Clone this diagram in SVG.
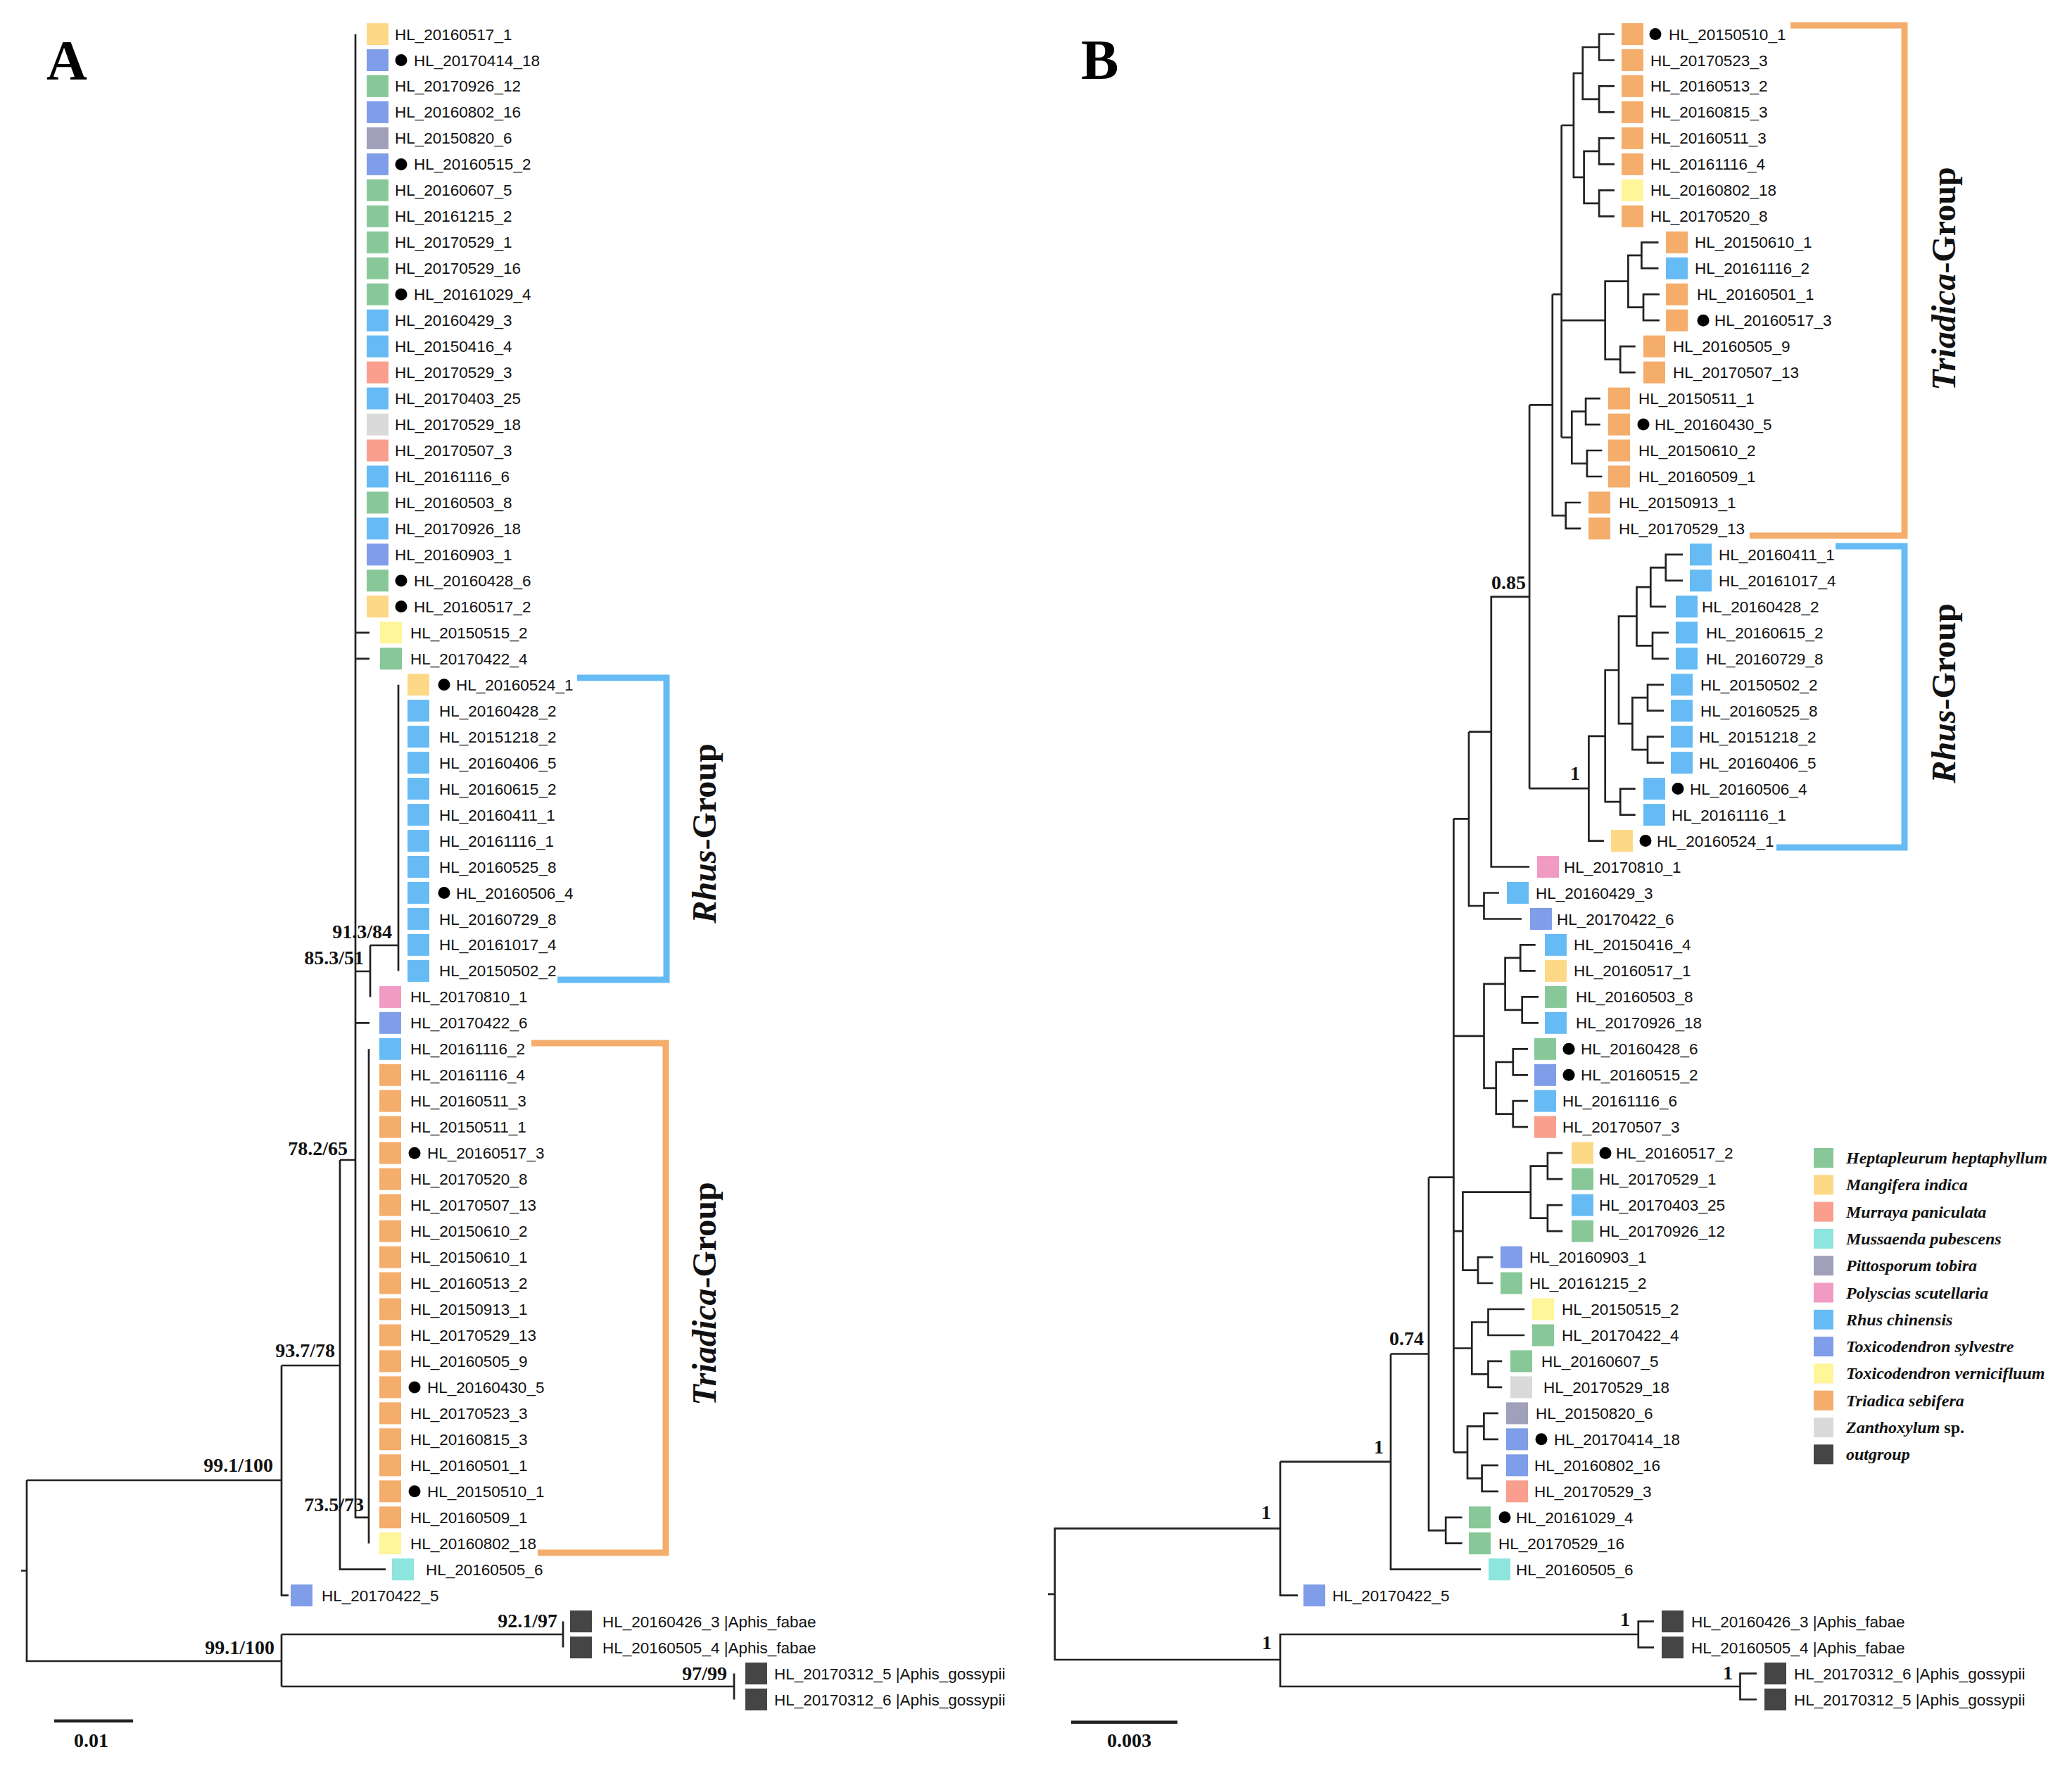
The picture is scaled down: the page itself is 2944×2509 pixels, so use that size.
<svg xmlns="http://www.w3.org/2000/svg" width="2944" height="2509" viewBox="0 0 2944 2509">
<style>
.ln{fill:none;stroke:#222;stroke-width:2.7}
.sb{fill:none;stroke:#222;stroke-width:4.5}
.t{font-family:"Liberation Sans",Arial,sans-serif;font-size:22.5px;fill:#111}
.bs{font-family:"Liberation Serif","Times New Roman",serif;font-size:28px;font-weight:bold;fill:#111;text-anchor:end}
.sc{font-family:"Liberation Serif","Times New Roman",serif;font-size:28px;font-weight:bold;fill:#111}
.lg{font-family:"Liberation Serif","Times New Roman",serif;font-size:24px;font-weight:bold;font-style:italic;fill:#111}
.grp{font-family:"Liberation Serif","Times New Roman",serif;font-size:48px;font-weight:bold;fill:#111;text-anchor:middle}
.pl{font-family:"Liberation Serif","Times New Roman",serif;font-size:80px;font-weight:bold;fill:#000}
.br{fill:none;stroke-width:9}
.bo{stroke:#F4AD6B}.bb{stroke:#66BBF4}
.hp{fill:#88C898}.mg{fill:#FDD886}.mu{fill:#FA9E8E}.ms{fill:#8DE5DE}.pt{fill:#A0A0BA}.po{fill:#F19BC4}
.rh{fill:#66BBF4}.sy{fill:#7F9DE8}.ve{fill:#FFF599}.tr{fill:#F4AD6B}.za{fill:#DADADA}.og{fill:#454545}
circle{fill:#000}
</style>
<rect width="2944" height="2509" fill="#fff"/>
<text class="pl" x="66" y="113">A</text>
<text class="pl" x="1536" y="112">B</text>

<g id="connectors-A">
<path class="ln" d="M505,48.5V2155.8H524M524,1490.3V2192.7M505,898.8H525M505,935.8H525M505,1380H526M526,1343V1416.4M526,1343H566M566,972.8V1379.4M505,1453.3H525M483,1648H505M483,1648V2229.7H548M400,1940H483M400,1940V2266.7H410M38,2103H400M38,2103V2360H400M30,2231.5H38M400,2322V2396M400,2322H800M800,2303.6V2340.6M400,2396H1043M1043,2377.6V2414.5"/>
<path class="sb" d="M77,2445H189"/>
<path class="br bb" d="M820,963H947V1392H792"/>
<path class="br bo" d="M755,1482H946V2206H764"/>
</g>
<g id="labels-A">
<text class="bs" x="557" y="1333">91.3/84</text>
<text class="bs" x="517" y="1370">85.3/51</text>
<text class="bs" x="494" y="1641">78.2/65</text>
<text class="bs" x="476" y="1928">93.7/78</text>
<text class="bs" x="388" y="2091">99.1/100</text>
<text class="bs" x="517" y="2147">73.5/73</text>
<text class="bs" x="792" y="2312">92.1/97</text>
<text class="bs" x="390" y="2350">99.1/100</text>
<text class="bs" x="1033" y="2387">97/99</text>
<text class="sc" x="105" y="2482">0.01</text>
<text class="grp" transform="translate(1017,1184) rotate(-90)"><tspan font-style="italic">Rhus</tspan>-Group</text>
<text class="grp" transform="translate(1017,1838) rotate(-90)"><tspan font-style="italic">Triadica</tspan>-Group</text>
</g>

<g id="tips-A">
<g id="A1" transform="translate(0,48.5)"><rect class="mg" x="521" y="-15.5" width="31" height="31"/><text class="t" x="561" y="8">HL_20160517_1</text></g>
<g id="A2" transform="translate(0,85.5)"><rect class="sy" x="521" y="-15.5" width="31" height="31"/><circle cx="570" cy="0" r="8.5"/><text class="t" x="588" y="8">HL_20170414_18</text></g>
<g id="A3" transform="translate(0,122.4)"><rect class="hp" x="521" y="-15.5" width="31" height="31"/><text class="t" x="561" y="8">HL_20170926_12</text></g>
<g id="A4" transform="translate(0,159.4)"><rect class="sy" x="521" y="-15.5" width="31" height="31"/><text class="t" x="561" y="8">HL_20160802_16</text></g>
<g id="A5" transform="translate(0,196.4)"><rect class="pt" x="521" y="-15.5" width="31" height="31"/><text class="t" x="561" y="8">HL_20150820_6</text></g>
<g id="A6" transform="translate(0,233.4)"><rect class="sy" x="521" y="-15.5" width="31" height="31"/><circle cx="570" cy="0" r="8.5"/><text class="t" x="588" y="8">HL_20160515_2</text></g>
<g id="A7" transform="translate(0,270.3)"><rect class="hp" x="521" y="-15.5" width="31" height="31"/><text class="t" x="561" y="8">HL_20160607_5</text></g>
<g id="A8" transform="translate(0,307.3)"><rect class="hp" x="521" y="-15.5" width="31" height="31"/><text class="t" x="561" y="8">HL_20161215_2</text></g>
<g id="A9" transform="translate(0,344.3)"><rect class="hp" x="521" y="-15.5" width="31" height="31"/><text class="t" x="561" y="8">HL_20170529_1</text></g>
<g id="A10" transform="translate(0,381.2)"><rect class="hp" x="521" y="-15.5" width="31" height="31"/><text class="t" x="561" y="8">HL_20170529_16</text></g>
<g id="A11" transform="translate(0,418.2)"><rect class="hp" x="521" y="-15.5" width="31" height="31"/><circle cx="570" cy="0" r="8.5"/><text class="t" x="588" y="8">HL_20161029_4</text></g>
<g id="A12" transform="translate(0,455.2)"><rect class="rh" x="521" y="-15.5" width="31" height="31"/><text class="t" x="561" y="8">HL_20160429_3</text></g>
<g id="A13" transform="translate(0,492.1)"><rect class="rh" x="521" y="-15.5" width="31" height="31"/><text class="t" x="561" y="8">HL_20150416_4</text></g>
<g id="A14" transform="translate(0,529.1)"><rect class="mu" x="521" y="-15.5" width="31" height="31"/><text class="t" x="561" y="8">HL_20170529_3</text></g>
<g id="A15" transform="translate(0,566.1)"><rect class="rh" x="521" y="-15.5" width="31" height="31"/><text class="t" x="561" y="8">HL_20170403_25</text></g>
<g id="A16" transform="translate(0,603.1)"><rect class="za" x="521" y="-15.5" width="31" height="31"/><text class="t" x="561" y="8">HL_20170529_18</text></g>
<g id="A17" transform="translate(0,640)"><rect class="mu" x="521" y="-15.5" width="31" height="31"/><text class="t" x="561" y="8">HL_20170507_3</text></g>
<g id="A18" transform="translate(0,677)"><rect class="rh" x="521" y="-15.5" width="31" height="31"/><text class="t" x="561" y="8">HL_20161116_6</text></g>
<g id="A19" transform="translate(0,714)"><rect class="hp" x="521" y="-15.5" width="31" height="31"/><text class="t" x="561" y="8">HL_20160503_8</text></g>
<g id="A20" transform="translate(0,750.9)"><rect class="rh" x="521" y="-15.5" width="31" height="31"/><text class="t" x="561" y="8">HL_20170926_18</text></g>
<g id="A21" transform="translate(0,787.9)"><rect class="sy" x="521" y="-15.5" width="31" height="31"/><text class="t" x="561" y="8">HL_20160903_1</text></g>
<g id="A22" transform="translate(0,824.9)"><rect class="hp" x="521" y="-15.5" width="31" height="31"/><circle cx="570" cy="0" r="8.5"/><text class="t" x="588" y="8">HL_20160428_6</text></g>
<g id="A23" transform="translate(0,861.8)"><rect class="mg" x="521" y="-15.5" width="31" height="31"/><circle cx="570" cy="0" r="8.5"/><text class="t" x="588" y="8">HL_20160517_2</text></g>
<g id="A24" transform="translate(0,898.8)"><rect class="ve" x="540" y="-15.5" width="31" height="31"/><text class="t" x="583" y="8">HL_20150515_2</text></g>
<g id="A25" transform="translate(0,935.8)"><rect class="hp" x="540" y="-15.5" width="31" height="31"/><text class="t" x="583" y="8">HL_20170422_4</text></g>
<g id="A26" transform="translate(0,972.8)"><rect class="mg" x="579" y="-15.5" width="31" height="31"/><circle cx="631" cy="0" r="8.5"/><text class="t" x="648" y="8">HL_20160524_1</text></g>
<g id="A27" transform="translate(0,1009.7)"><rect class="rh" x="579" y="-15.5" width="31" height="31"/><text class="t" x="624" y="8">HL_20160428_2</text></g>
<g id="A28" transform="translate(0,1046.7)"><rect class="rh" x="579" y="-15.5" width="31" height="31"/><text class="t" x="624" y="8">HL_20151218_2</text></g>
<g id="A29" transform="translate(0,1083.7)"><rect class="rh" x="579" y="-15.5" width="31" height="31"/><text class="t" x="624" y="8">HL_20160406_5</text></g>
<g id="A30" transform="translate(0,1120.6)"><rect class="rh" x="579" y="-15.5" width="31" height="31"/><text class="t" x="624" y="8">HL_20160615_2</text></g>
<g id="A31" transform="translate(0,1157.6)"><rect class="rh" x="579" y="-15.5" width="31" height="31"/><text class="t" x="624" y="8">HL_20160411_1</text></g>
<g id="A32" transform="translate(0,1194.6)"><rect class="rh" x="579" y="-15.5" width="31" height="31"/><text class="t" x="624" y="8">HL_20161116_1</text></g>
<g id="A33" transform="translate(0,1231.5)"><rect class="rh" x="579" y="-15.5" width="31" height="31"/><text class="t" x="624" y="8">HL_20160525_8</text></g>
<g id="A34" transform="translate(0,1268.5)"><rect class="rh" x="579" y="-15.5" width="31" height="31"/><circle cx="631" cy="0" r="8.5"/><text class="t" x="648" y="8">HL_20160506_4</text></g>
<g id="A35" transform="translate(0,1305.5)"><rect class="rh" x="579" y="-15.5" width="31" height="31"/><text class="t" x="624" y="8">HL_20160729_8</text></g>
<g id="A36" transform="translate(0,1342.4)"><rect class="rh" x="579" y="-15.5" width="31" height="31"/><text class="t" x="624" y="8">HL_20161017_4</text></g>
<g id="A37" transform="translate(0,1379.4)"><rect class="rh" x="579" y="-15.5" width="31" height="31"/><text class="t" x="624" y="8">HL_20150502_2</text></g>
<g id="A38" transform="translate(0,1416.4)"><rect class="po" x="539" y="-15.5" width="31" height="31"/><text class="t" x="583" y="8">HL_20170810_1</text></g>
<g id="A39" transform="translate(0,1453.3)"><rect class="sy" x="539" y="-15.5" width="31" height="31"/><text class="t" x="583" y="8">HL_20170422_6</text></g>
<g id="A40" transform="translate(0,1490.3)"><rect class="rh" x="539" y="-15.5" width="31" height="31"/><text class="t" x="583" y="8">HL_20161116_2</text></g>
<g id="A41" transform="translate(0,1527.3)"><rect class="tr" x="539" y="-15.5" width="31" height="31"/><text class="t" x="583" y="8">HL_20161116_4</text></g>
<g id="A42" transform="translate(0,1564.2)"><rect class="tr" x="539" y="-15.5" width="31" height="31"/><text class="t" x="583" y="8">HL_20160511_3</text></g>
<g id="A43" transform="translate(0,1601.2)"><rect class="tr" x="539" y="-15.5" width="31" height="31"/><text class="t" x="583" y="8">HL_20150511_1</text></g>
<g id="A44" transform="translate(0,1638.2)"><rect class="tr" x="539" y="-15.5" width="31" height="31"/><circle cx="589" cy="0" r="8.5"/><text class="t" x="607" y="8">HL_20160517_3</text></g>
<g id="A45" transform="translate(0,1675.2)"><rect class="tr" x="539" y="-15.5" width="31" height="31"/><text class="t" x="583" y="8">HL_20170520_8</text></g>
<g id="A46" transform="translate(0,1712.1)"><rect class="tr" x="539" y="-15.5" width="31" height="31"/><text class="t" x="583" y="8">HL_20170507_13</text></g>
<g id="A47" transform="translate(0,1749.1)"><rect class="tr" x="539" y="-15.5" width="31" height="31"/><text class="t" x="583" y="8">HL_20150610_2</text></g>
<g id="A48" transform="translate(0,1786.1)"><rect class="tr" x="539" y="-15.5" width="31" height="31"/><text class="t" x="583" y="8">HL_20150610_1</text></g>
<g id="A49" transform="translate(0,1823)"><rect class="tr" x="539" y="-15.5" width="31" height="31"/><text class="t" x="583" y="8">HL_20160513_2</text></g>
<g id="A50" transform="translate(0,1860)"><rect class="tr" x="539" y="-15.5" width="31" height="31"/><text class="t" x="583" y="8">HL_20150913_1</text></g>
<g id="A51" transform="translate(0,1897)"><rect class="tr" x="539" y="-15.5" width="31" height="31"/><text class="t" x="583" y="8">HL_20170529_13</text></g>
<g id="A52" transform="translate(0,1933.9)"><rect class="tr" x="539" y="-15.5" width="31" height="31"/><text class="t" x="583" y="8">HL_20160505_9</text></g>
<g id="A53" transform="translate(0,1970.9)"><rect class="tr" x="539" y="-15.5" width="31" height="31"/><circle cx="589" cy="0" r="8.5"/><text class="t" x="607" y="8">HL_20160430_5</text></g>
<g id="A54" transform="translate(0,2007.9)"><rect class="tr" x="539" y="-15.5" width="31" height="31"/><text class="t" x="583" y="8">HL_20170523_3</text></g>
<g id="A55" transform="translate(0,2044.8)"><rect class="tr" x="539" y="-15.5" width="31" height="31"/><text class="t" x="583" y="8">HL_20160815_3</text></g>
<g id="A56" transform="translate(0,2081.8)"><rect class="tr" x="539" y="-15.5" width="31" height="31"/><text class="t" x="583" y="8">HL_20160501_1</text></g>
<g id="A57" transform="translate(0,2118.8)"><rect class="tr" x="539" y="-15.5" width="31" height="31"/><circle cx="589" cy="0" r="8.5"/><text class="t" x="607" y="8">HL_20150510_1</text></g>
<g id="A58" transform="translate(0,2155.8)"><rect class="tr" x="539" y="-15.5" width="31" height="31"/><text class="t" x="583" y="8">HL_20160509_1</text></g>
<g id="A59" transform="translate(0,2192.7)"><rect class="ve" x="539" y="-15.5" width="31" height="31"/><text class="t" x="583" y="8">HL_20160802_18</text></g>
<g id="A60" transform="translate(0,2229.7)"><rect class="ms" x="557" y="-15.5" width="31" height="31"/><text class="t" x="605" y="8">HL_20160505_6</text></g>
<g id="A61" transform="translate(0,2266.7)"><rect class="sy" x="413" y="-15.5" width="31" height="31"/><text class="t" x="457" y="8">HL_20170422_5</text></g>
<g id="A62" transform="translate(0,2303.6)"><rect class="og" x="810" y="-15.5" width="31" height="31"/><text class="t" x="856" y="8">HL_20160426_3 |Aphis_fabae</text></g>
<g id="A63" transform="translate(0,2340.6)"><rect class="og" x="810" y="-15.5" width="31" height="31"/><text class="t" x="856" y="8">HL_20160505_4 |Aphis_fabae</text></g>
<g id="A64" transform="translate(0,2377.6)"><rect class="og" x="1059" y="-15.5" width="31" height="31"/><text class="t" x="1100" y="8">HL_20170312_5 |Aphis_gossypii</text></g>
<g id="A65" transform="translate(0,2414.5)"><rect class="og" x="1059" y="-15.5" width="31" height="31"/><text class="t" x="1100" y="8">HL_20170312_6 |Aphis_gossypii</text></g>
</g>

<g id="connectors-B">
<path class="ln" d="M2294,48.5H2272.1V85.5H2294M2294,122.4H2272.1V159.4H2294M2272.1,67H2248.8V140.9H2272.1M2294,196.4H2272.1V233.4H2294M2294,270.3H2272.1V307.3H2294M2272.1,214.9H2250.6V288.8H2272.1M2248.8,104H2235.9V251.9H2250.6M2235.9,178H2218.7
M2356.5,344.3H2332.4V381.2H2356.5M2358,418.2H2335V455.2H2358M2332.4,362.8H2313.4V436.7H2335M2323.7,492.1H2302.2V529.1H2323.7M2313.4,399.7H2280.7V510.6H2302.2M2280.7,455.2H2218.7
M2273.8,566.1H2253.1V603.1H2273.8M2276.4,640H2254.9V677H2276.4M2253.1,584.6H2233.3V658.5H2254.9M2233.3,621.5H2218.7M2218.7,178V621.5M2218.7,418.2H2205.8M2246.3,714H2224.7V750.9H2246.3M2224.7,732.5H2205.8V418.2M2205.8,575.4H2173.1
M2391,787.9H2366.8V824.9H2391M2366.8,806.4H2345.3V861.8H2367M2371,898.8H2348V935.8H2371M2345.3,834.1H2325.5V917.3H2348M2364,972.8H2341V1009.7H2364M2364,1046.7H2341V1083.7H2364M2341,991.2H2319.4V1065.2H2341M2325.5,875.7H2300V1028.2H2319.4M2323.7,1120.6H2302.2V1157.6H2323.7M2300,952H2280.7V1139.1H2302.2M2280.7,1045.8H2257.4V1194.6H2279M2257.4,1120.2H2173.1M2173.1,575.4V1120.2
M2173.1,847.8H2118.8V1231.5H2173.1M2118.8,1039.7H2087M2130,1268.5H2108.5V1305.5H2162M2108.5,1287H2087V1039.7M2087,1163.3H2065.4
M2181.7,1342.4H2160.2V1379.4H2181.7M2186,1416.4H2162.7V1453.3H2186M2160.2,1360.9H2138.6V1434.9H2162.7M2171,1490.3H2149.8V1527.3H2171M2171,1564.2H2149.8V1601.2H2171M2149.8,1508.8H2125.7V1582.7H2149.8M2138.6,1397.9H2108.5V1545.8H2125.7M2108.5,1471.9H2065.4
M2220.4,1638.2H2198.9V1675.2H2220.4M2220.4,1712.1H2198.9V1749.1H2220.4M2198.9,1656.7H2174.8V1730.6H2198.9M2121.4,1786.1H2100V1823H2121.4M2174.8,1693.7H2078.4V1804.6H2100M2078.4,1749.2H2065.4
M2166.2,1860H2114.5V1897H2166.2M2134.3,1933.9H2114.5V1970.9H2134.3M2114.5,1878.5H2091.3V1952.4H2114.5M2091.3,1915.5H2065.4
M2129,2007.9H2108.4V2044.8H2129M2129,2081.8H2105.6V2118.8H2129M2108.4,2026.4H2085V2100.3H2105.6M2085,2063.3H2065.4M2065.4,1163.3V2063.3M2065.4,1672.6H2030
M2077.6,2155.8H2054.2V2192.7H2077.6M2054.2,2174.3H2030V1672.6M2030,1923.5H1976M1976,1923.5V2229.7H2104M1976,2076.6H1819M1819,2076.6V2266.7H1844M1819,2171.6H1498.7V2358H1819M1489,2264.8H1498.7M2327.8,2322H1819V2396H2472.5M2350,2303.6H2327.8V2340.6H2350M2496,2377.6H2472.5V2414.5H2496"/>
<path class="sb" d="M1522,2446.7H1673"/>
<path class="br bo" d="M2544,36H2706V761H2486"/>
<path class="br bb" d="M2608,776H2706V1204H2524"/>
</g>
<g id="labels-B">
<text class="bs" x="2168" y="837">0.85</text>
<text class="bs" x="2245" y="1108">1</text>
<text class="bs" x="2023" y="1911">0.74</text>
<text class="bs" x="1966" y="2065">1</text>
<text class="bs" x="1806" y="2158">1</text>
<text class="bs" x="1807" y="2343">1</text>
<text class="bs" x="2316" y="2310">1</text>
<text class="bs" x="2462" y="2386">1</text>
<text class="sc" x="1573" y="2482">0.003</text>
<text class="grp" transform="translate(2778,396) rotate(-90)"><tspan font-style="italic">Triadica</tspan>-Group</text>
<text class="grp" transform="translate(2778,985) rotate(-90)"><tspan font-style="italic">Rhus</tspan>-Group</text>
</g>

<g id="tips-B">
<g id="B1" transform="translate(0,48.5)"><rect class="tr" x="2304" y="-15.5" width="31" height="31"/><circle cx="2352" cy="0" r="8.5"/><text class="t" x="2371" y="8">HL_20150510_1</text></g>
<g id="B2" transform="translate(0,85.5)"><rect class="tr" x="2304" y="-15.5" width="31" height="31"/><text class="t" x="2345" y="8">HL_20170523_3</text></g>
<g id="B3" transform="translate(0,122.4)"><rect class="tr" x="2304" y="-15.5" width="31" height="31"/><text class="t" x="2345" y="8">HL_20160513_2</text></g>
<g id="B4" transform="translate(0,159.4)"><rect class="tr" x="2304" y="-15.5" width="31" height="31"/><text class="t" x="2345" y="8">HL_20160815_3</text></g>
<g id="B5" transform="translate(0,196.4)"><rect class="tr" x="2304" y="-15.5" width="31" height="31"/><text class="t" x="2345" y="8">HL_20160511_3</text></g>
<g id="B6" transform="translate(0,233.4)"><rect class="tr" x="2304" y="-15.5" width="31" height="31"/><text class="t" x="2345" y="8">HL_20161116_4</text></g>
<g id="B7" transform="translate(0,270.3)"><rect class="ve" x="2304" y="-15.5" width="31" height="31"/><text class="t" x="2345" y="8">HL_20160802_18</text></g>
<g id="B8" transform="translate(0,307.3)"><rect class="tr" x="2304" y="-15.5" width="31" height="31"/><text class="t" x="2345" y="8">HL_20170520_8</text></g>
<g id="B9" transform="translate(0,344.3)"><rect class="tr" x="2367" y="-15.5" width="31" height="31"/><text class="t" x="2408" y="8">HL_20150610_1</text></g>
<g id="B10" transform="translate(0,381.2)"><rect class="rh" x="2367" y="-15.5" width="31" height="31"/><text class="t" x="2408" y="8">HL_20161116_2</text></g>
<g id="B11" transform="translate(0,418.2)"><rect class="tr" x="2367" y="-15.5" width="31" height="31"/><text class="t" x="2411" y="8">HL_20160501_1</text></g>
<g id="B12" transform="translate(0,455.2)"><rect class="tr" x="2367" y="-15.5" width="31" height="31"/><circle cx="2420" cy="0" r="8.5"/><text class="t" x="2436" y="8">HL_20160517_3</text></g>
<g id="B13" transform="translate(0,492.1)"><rect class="tr" x="2335" y="-15.5" width="31" height="31"/><text class="t" x="2377" y="8">HL_20160505_9</text></g>
<g id="B14" transform="translate(0,529.1)"><rect class="tr" x="2335" y="-15.5" width="31" height="31"/><text class="t" x="2377" y="8">HL_20170507_13</text></g>
<g id="B15" transform="translate(0,566.1)"><rect class="tr" x="2285" y="-15.5" width="31" height="31"/><text class="t" x="2328" y="8">HL_20150511_1</text></g>
<g id="B16" transform="translate(0,603.1)"><rect class="tr" x="2285" y="-15.5" width="31" height="31"/><circle cx="2335" cy="0" r="8.5"/><text class="t" x="2351" y="8">HL_20160430_5</text></g>
<g id="B17" transform="translate(0,640)"><rect class="tr" x="2285" y="-15.5" width="31" height="31"/><text class="t" x="2328" y="8">HL_20150610_2</text></g>
<g id="B18" transform="translate(0,677)"><rect class="tr" x="2285" y="-15.5" width="31" height="31"/><text class="t" x="2328" y="8">HL_20160509_1</text></g>
<g id="B19" transform="translate(0,714)"><rect class="tr" x="2257" y="-15.5" width="31" height="31"/><text class="t" x="2300" y="8">HL_20150913_1</text></g>
<g id="B20" transform="translate(0,750.9)"><rect class="tr" x="2257" y="-15.5" width="31" height="31"/><text class="t" x="2300" y="8">HL_20170529_13</text></g>
<g id="B21" transform="translate(0,787.9)"><rect class="rh" x="2401" y="-15.5" width="31" height="31"/><text class="t" x="2442" y="8">HL_20160411_1</text></g>
<g id="B22" transform="translate(0,824.9)"><rect class="rh" x="2401" y="-15.5" width="31" height="31"/><text class="t" x="2442" y="8">HL_20161017_4</text></g>
<g id="B23" transform="translate(0,861.8)"><rect class="rh" x="2381" y="-15.5" width="31" height="31"/><text class="t" x="2418" y="8">HL_20160428_2</text></g>
<g id="B24" transform="translate(0,898.8)"><rect class="rh" x="2381" y="-15.5" width="31" height="31"/><text class="t" x="2424" y="8">HL_20160615_2</text></g>
<g id="B25" transform="translate(0,935.8)"><rect class="rh" x="2381" y="-15.5" width="31" height="31"/><text class="t" x="2424" y="8">HL_20160729_8</text></g>
<g id="B26" transform="translate(0,972.8)"><rect class="rh" x="2374" y="-15.5" width="31" height="31"/><text class="t" x="2416" y="8">HL_20150502_2</text></g>
<g id="B27" transform="translate(0,1009.7)"><rect class="rh" x="2374" y="-15.5" width="31" height="31"/><text class="t" x="2416" y="8">HL_20160525_8</text></g>
<g id="B28" transform="translate(0,1046.7)"><rect class="rh" x="2374" y="-15.5" width="31" height="31"/><text class="t" x="2414" y="8">HL_20151218_2</text></g>
<g id="B29" transform="translate(0,1083.7)"><rect class="rh" x="2374" y="-15.5" width="31" height="31"/><text class="t" x="2414" y="8">HL_20160406_5</text></g>
<g id="B30" transform="translate(0,1120.6)"><rect class="rh" x="2335" y="-15.5" width="31" height="31"/><circle cx="2384" cy="0" r="8.5"/><text class="t" x="2401" y="8">HL_20160506_4</text></g>
<g id="B31" transform="translate(0,1157.6)"><rect class="rh" x="2335" y="-15.5" width="31" height="31"/><text class="t" x="2375" y="8">HL_20161116_1</text></g>
<g id="B32" transform="translate(0,1194.6)"><rect class="mg" x="2289" y="-15.5" width="31" height="31"/><circle cx="2338" cy="0" r="8.5"/><text class="t" x="2354" y="8">HL_20160524_1</text></g>
<g id="B33" transform="translate(0,1231.5)"><rect class="po" x="2184" y="-15.5" width="31" height="31"/><text class="t" x="2222" y="8">HL_20170810_1</text></g>
<g id="B34" transform="translate(0,1268.5)"><rect class="rh" x="2141" y="-15.5" width="31" height="31"/><text class="t" x="2182" y="8">HL_20160429_3</text></g>
<g id="B35" transform="translate(0,1305.5)"><rect class="sy" x="2174" y="-15.5" width="31" height="31"/><text class="t" x="2212" y="8">HL_20170422_6</text></g>
<g id="B36" transform="translate(0,1342.4)"><rect class="rh" x="2195" y="-15.5" width="31" height="31"/><text class="t" x="2236" y="8">HL_20150416_4</text></g>
<g id="B37" transform="translate(0,1379.4)"><rect class="mg" x="2195" y="-15.5" width="31" height="31"/><text class="t" x="2236" y="8">HL_20160517_1</text></g>
<g id="B38" transform="translate(0,1416.4)"><rect class="hp" x="2195" y="-15.5" width="31" height="31"/><text class="t" x="2239" y="8">HL_20160503_8</text></g>
<g id="B39" transform="translate(0,1453.3)"><rect class="rh" x="2195" y="-15.5" width="31" height="31"/><text class="t" x="2239" y="8">HL_20170926_18</text></g>
<g id="B40" transform="translate(0,1490.3)"><rect class="hp" x="2180" y="-15.5" width="31" height="31"/><circle cx="2229" cy="0" r="8.5"/><text class="t" x="2246" y="8">HL_20160428_6</text></g>
<g id="B41" transform="translate(0,1527.3)"><rect class="sy" x="2180" y="-15.5" width="31" height="31"/><circle cx="2229" cy="0" r="8.5"/><text class="t" x="2246" y="8">HL_20160515_2</text></g>
<g id="B42" transform="translate(0,1564.2)"><rect class="rh" x="2180" y="-15.5" width="31" height="31"/><text class="t" x="2220" y="8">HL_20161116_6</text></g>
<g id="B43" transform="translate(0,1601.2)"><rect class="mu" x="2180" y="-15.5" width="31" height="31"/><text class="t" x="2220" y="8">HL_20170507_3</text></g>
<g id="B44" transform="translate(0,1638.2)"><rect class="mg" x="2233" y="-15.5" width="31" height="31"/><circle cx="2281" cy="0" r="8.5"/><text class="t" x="2296" y="8">HL_20160517_2</text></g>
<g id="B45" transform="translate(0,1675.2)"><rect class="hp" x="2233" y="-15.5" width="31" height="31"/><text class="t" x="2272" y="8">HL_20170529_1</text></g>
<g id="B46" transform="translate(0,1712.1)"><rect class="rh" x="2233" y="-15.5" width="31" height="31"/><text class="t" x="2272" y="8">HL_20170403_25</text></g>
<g id="B47" transform="translate(0,1749.1)"><rect class="hp" x="2233" y="-15.5" width="31" height="31"/><text class="t" x="2272" y="8">HL_20170926_12</text></g>
<g id="B48" transform="translate(0,1786.1)"><rect class="sy" x="2132" y="-15.5" width="31" height="31"/><text class="t" x="2173" y="8">HL_20160903_1</text></g>
<g id="B49" transform="translate(0,1823)"><rect class="hp" x="2132" y="-15.5" width="31" height="31"/><text class="t" x="2173" y="8">HL_20161215_2</text></g>
<g id="B50" transform="translate(0,1860)"><rect class="ve" x="2177" y="-15.5" width="31" height="31"/><text class="t" x="2219" y="8">HL_20150515_2</text></g>
<g id="B51" transform="translate(0,1897)"><rect class="hp" x="2177" y="-15.5" width="31" height="31"/><text class="t" x="2219" y="8">HL_20170422_4</text></g>
<g id="B52" transform="translate(0,1933.9)"><rect class="hp" x="2146" y="-15.5" width="31" height="31"/><text class="t" x="2190" y="8">HL_20160607_5</text></g>
<g id="B53" transform="translate(0,1970.9)"><rect class="za" x="2146" y="-15.5" width="31" height="31"/><text class="t" x="2193" y="8">HL_20170529_18</text></g>
<g id="B54" transform="translate(0,2007.9)"><rect class="pt" x="2140" y="-15.5" width="31" height="31"/><text class="t" x="2182" y="8">HL_20150820_6</text></g>
<g id="B55" transform="translate(0,2044.8)"><rect class="sy" x="2140" y="-15.5" width="31" height="31"/><circle cx="2190" cy="0" r="8.5"/><text class="t" x="2208" y="8">HL_20170414_18</text></g>
<g id="B56" transform="translate(0,2081.8)"><rect class="sy" x="2140" y="-15.5" width="31" height="31"/><text class="t" x="2180" y="8">HL_20160802_16</text></g>
<g id="B57" transform="translate(0,2118.8)"><rect class="mu" x="2140" y="-15.5" width="31" height="31"/><text class="t" x="2180" y="8">HL_20170529_3</text></g>
<g id="B58" transform="translate(0,2155.8)"><rect class="hp" x="2087" y="-15.5" width="31" height="31"/><circle cx="2138" cy="0" r="8.5"/><text class="t" x="2154" y="8">HL_20161029_4</text></g>
<g id="B59" transform="translate(0,2192.7)"><rect class="hp" x="2087" y="-15.5" width="31" height="31"/><text class="t" x="2129" y="8">HL_20170529_16</text></g>
<g id="B60" transform="translate(0,2229.7)"><rect class="ms" x="2115" y="-15.5" width="31" height="31"/><text class="t" x="2154" y="8">HL_20160505_6</text></g>
<g id="B61" transform="translate(0,2266.7)"><rect class="sy" x="1852" y="-15.5" width="31" height="31"/><text class="t" x="1893" y="8">HL_20170422_5</text></g>
<g id="B62" transform="translate(0,2303.6)"><rect class="og" x="2361" y="-15.5" width="31" height="31"/><text class="t" x="2403" y="8">HL_20160426_3 |Aphis_fabae</text></g>
<g id="B63" transform="translate(0,2340.6)"><rect class="og" x="2361" y="-15.5" width="31" height="31"/><text class="t" x="2403" y="8">HL_20160505_4 |Aphis_fabae</text></g>
<g id="B64" transform="translate(0,2377.6)"><rect class="og" x="2507" y="-15.5" width="31" height="31"/><text class="t" x="2549" y="8">HL_20170312_6 |Aphis_gossypii</text></g>
<g id="B65" transform="translate(0,2414.5)"><rect class="og" x="2507" y="-15.5" width="31" height="31"/><text class="t" x="2549" y="8">HL_20170312_5 |Aphis_gossypii</text></g>
</g>

<g id="legend">
<g id="L1" transform="translate(0,1645)"><rect class="hp" x="2577" y="-14" width="28" height="28"/><text class="lg" x="2623" y="8">Heptapleurum heptaphyllum</text></g>
<g id="L2" transform="translate(0,1683.3)"><rect class="mg" x="2577" y="-14" width="28" height="28"/><text class="lg" x="2623" y="8">Mangifera indica</text></g>
<g id="L3" transform="translate(0,1721.6)"><rect class="mu" x="2577" y="-14" width="28" height="28"/><text class="lg" x="2623" y="8">Murraya paniculata</text></g>
<g id="L4" transform="translate(0,1759.9)"><rect class="ms" x="2577" y="-14" width="28" height="28"/><text class="lg" x="2623" y="8">Mussaenda pubescens</text></g>
<g id="L5" transform="translate(0,1798.2)"><rect class="pt" x="2577" y="-14" width="28" height="28"/><text class="lg" x="2623" y="8">Pittosporum tobira</text></g>
<g id="L6" transform="translate(0,1836.5)"><rect class="po" x="2577" y="-14" width="28" height="28"/><text class="lg" x="2623" y="8">Polyscias scutellaria</text></g>
<g id="L7" transform="translate(0,1874.8)"><rect class="rh" x="2577" y="-14" width="28" height="28"/><text class="lg" x="2623" y="8">Rhus chinensis</text></g>
<g id="L8" transform="translate(0,1913.1)"><rect class="sy" x="2577" y="-14" width="28" height="28"/><text class="lg" x="2623" y="8">Toxicodendron sylvestre</text></g>
<g id="L9" transform="translate(0,1951.4)"><rect class="ve" x="2577" y="-14" width="28" height="28"/><text class="lg" x="2623" y="8">Toxicodendron vernicifluum</text></g>
<g id="L10" transform="translate(0,1989.7)"><rect class="tr" x="2577" y="-14" width="28" height="28"/><text class="lg" x="2623" y="8">Triadica sebifera</text></g>
<g id="L11" transform="translate(0,2028)"><rect class="za" x="2577" y="-14" width="28" height="28"/><text class="lg" x="2623" y="8">Zanthoxylum <tspan font-style="normal">sp.</tspan></text></g>
<g id="L12" transform="translate(0,2066.3)"><rect class="og" x="2577" y="-14" width="28" height="28"/><text class="lg" x="2623" y="8" font-style="normal">outgroup</text></g>
</g>
</svg>
